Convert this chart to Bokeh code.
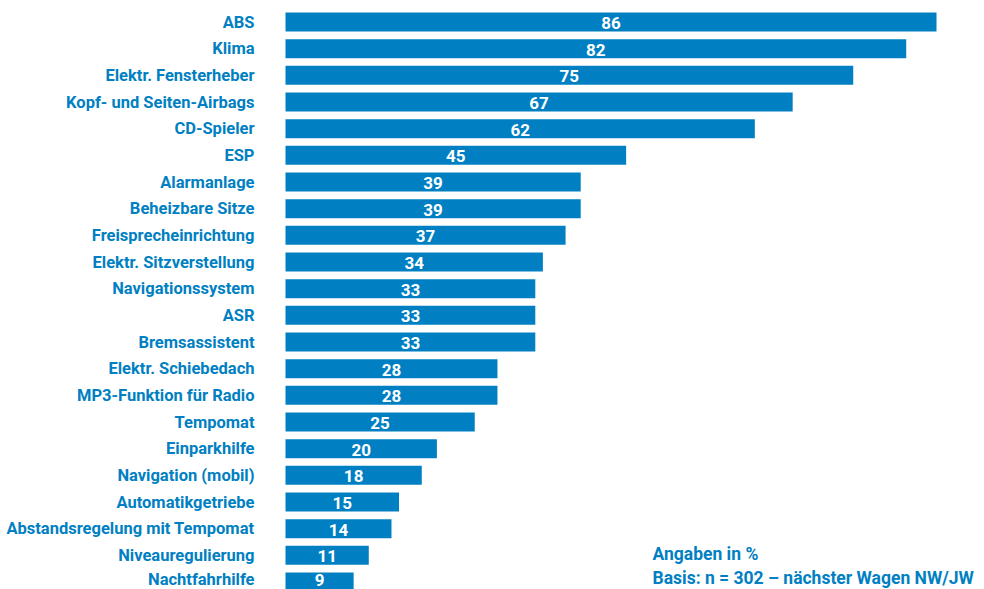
from bokeh.plotting import figure
from bokeh.models import ColumnDataSource, Range1d, Label
from bokeh.core.properties import value
from bokeh.embed import file_html
from bokeh.resources import INLINE

categories = ["ABS", "Klima", "Elektr. Fensterheber", "Kopf- und Seiten-Airbags",
              "CD-Spieler", "ESP", "Alarmanlage", "Beheizbare Sitze",
              "Freisprecheinrichtung", "Elektr. Sitzverstellung", "Navigationssystem",
              "ASR", "Bremsassistent", "Elektr. Schiebedach", "MP3-Funktion für Radio",
              "Tempomat", "Einparkhilfe", "Navigation (mobil)", "Automatikgetriebe",
              "Abstandsregelung mit Tempomat", "Niveauregulierung", "Nachtfahrhilfe"]
values = [86, 82, 75, 67, 62, 45, 39, 39, 37, 34, 33, 33, 33, 28, 28, 25, 20, 18, 15, 14, 11, 9]
note_lines = ["Angaben in %", "Basis: n = 302 \u2013 nächster Wagen NW/JW"]

BLUE = "#0080c2"
FONT = "Roboto"

W, H = 984, 589
sx = 651 / 86.0
xs = -285 / sx
xe = xs + W / sx
pitch = 26.667
ys = -21.5 / pitch
ye = ys + H / pitch

n = len(categories)
idx = list(range(n))
# keep the bottom row's texts inside the page edge
yoff_lab = [0] * (n - 1) + [-3]
yoff_val = [1] * (n - 1) + [-2]
src = ColumnDataSource(dict(y=idx, v=values, half=[v / 2 for v in values],
                            zero=[0] * n, cat=categories,
                            lab=[str(v) for v in values],
                            yl=yoff_lab, yv=yoff_val))

p = figure(width=W, height=H, output_backend="svg", toolbar_location=None,
           x_range=Range1d(xs, xe), y_range=Range1d(ye, ys),
           min_border=0, outline_line_color=None)
p.axis.visible = False
p.grid.visible = False
p.background_fill_color = "white"
p.border_fill_color = "white"

p.hbar(y="y", left=0, right="v", height=0.712, source=src,
       fill_color=BLUE, line_color=None)

p.text(x="half", y="y", text="lab", source=src, text_color="white",
       text_font=value(FONT), text_font_style="bold", text_font_size="17px",
       text_align="center", text_baseline="middle", y_offset="yv")

p.text(x="zero", y="y", text="cat", source=src, text_color=BLUE,
       text_font=value(FONT), text_font_style="bold", text_font_size="16.5px",
       text_align="right", text_baseline="middle", x_offset=-31, y_offset="yl")

p.add_layout(Label(x=652, y=36, x_units="screen", y_units="screen", text=note_lines[0],
                   text_color=BLUE, text_font=FONT, text_font_style="bold",
                   text_font_size="17.5px", text_baseline="alphabetic"))
p.add_layout(Label(x=652, y=12, x_units="screen", y_units="screen", text=note_lines[1],
                   text_color=BLUE, text_font=FONT, text_font_style="bold",
                   text_font_size="17.5px", text_baseline="alphabetic"))

open("out.html", "w").write(file_html(p, INLINE))
